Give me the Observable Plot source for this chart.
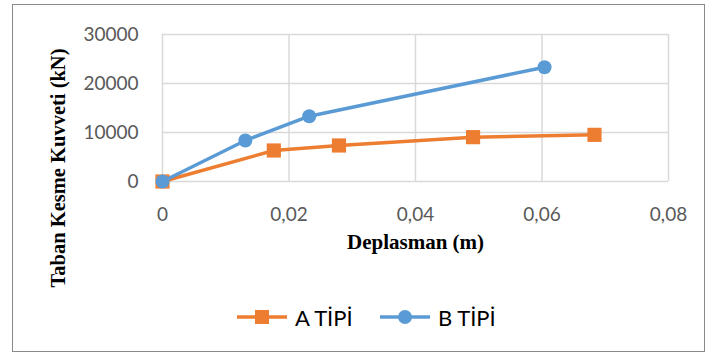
<!DOCTYPE html>
<html><head><meta charset="utf-8">
<script src="https://cdn.jsdelivr.net/npm/d3@7"></script>
<script src="https://cdn.jsdelivr.net/npm/@observablehq/plot@0.6"></script>
<style>
body{margin:0;background:#fff;}
#wrap{position:relative;width:707px;height:356px;overflow:hidden;}
#frame{position:absolute;left:12px;top:4px;width:691px;height:346px;border:1.5px solid #8a8a8a;}
#chart{position:absolute;left:0;top:0;}
#legend{position:absolute;left:0;top:300px;width:707px;height:34px;font-family:Lato,sans-serif;font-size:22px;color:#000;}
.item{position:absolute;top:0;display:flex;align-items:center;height:34px;}
</style></head><body>
<div id="wrap"><div id="frame"></div><div id="chart"></div><div id="legend"></div></div>
<script>
const seriesNames = ["A TİPİ", "B TİPİ"];
const seriesColors = ["#ED7D31", "#5B9BD5"];
const aX = [0, 0.0176, 0.0279, 0.0491, 0.0683];
const aY = [0, 6330, 7350, 9050, 9520];
const bX = [0, 0.0131, 0.0232, 0.0604];
const bY = [0, 8370, 13330, 23330];
const xTicks = [0, 0.02, 0.04, 0.06, 0.08];
const yTicks = [0, 10000, 20000, 30000];
const xTitle = "Deplasman (m)";
const yTitle = "Taban Kesme Kuvveti (kN)";

const A = aX.map((x,i)=>({x, y:aY[i]}));
const B = bX.map((x,i)=>({x, y:bY[i]}));
const fmtX = d => d === 0 ? "0" : d.toFixed(2).replace(".", ",");

const plot = Plot.plot({
  width: 707, height: 300,
  marginLeft: 162, marginRight: 39, marginTop: 34, marginBottom: 119,
  style: {fontFamily: "Lato, sans-serif", fontSize: "19px", color: "#595959", background: "transparent", overflow: "visible"},
  x: {domain: [0, 0.08], ticks: xTicks, tickFormat: fmtX, label: null},
  y: {domain: [0, 30000], ticks: yTicks, tickFormat: d3.format("d"), label: null},
  marks: [
    Plot.gridX(xTicks, {stroke: "#d9d9d9", strokeOpacity: 1, strokeWidth: 1.5}),
    Plot.gridY(yTicks, {stroke: "#d9d9d9", strokeOpacity: 1, strokeWidth: 1.5}),
    Plot.axisX(xTicks, {tickSize: 0, tickPadding: 26, tickFormat: fmtX, fill: "#595959"}),
    Plot.axisY(yTicks, {tickSize: 0, tickPadding: 24, tickFormat: d3.format("d"), fill: "#595959"}),
    Plot.line(A, {x: "x", y: "y", stroke: seriesColors[0], strokeWidth: 3.5}),
    Plot.dot(A, {x: "x", y: "y", symbol: "square", r: 8, fill: seriesColors[0], stroke: "none"}),
    Plot.line(B, {x: "x", y: "y", stroke: seriesColors[1], strokeWidth: 3.5}),
    Plot.dot(B, {x: "x", y: "y", symbol: "circle", r: 7, fill: seriesColors[1], stroke: "none"}),
    Plot.text([xTitle], {frameAnchor: "bottom", dy: 67, fontFamily: "Liberation Serif, serif", fontWeight: "bold", fontSize: 21, fill: "#000"})
  ]
});
d3.select(plot).append("text")
  .attr("transform", "translate(58,168) rotate(-90)")
  .attr("text-anchor", "middle")
  .attr("dominant-baseline", "central")
  .attr("font-family", "Liberation Serif, serif")
  .attr("font-weight", "bold")
  .attr("font-size", 20.5)
  .attr("fill", "#000")
  .text(yTitle);
document.getElementById("chart").appendChild(plot);

const legend = document.getElementById("legend");
const lx = [237, 380];
seriesNames.forEach((name, i) => {
  const it = document.createElement("div");
  it.className = "item";
  it.style.left = lx[i] + "px";
  const sym = i === 0
    ? `<rect x="18" y="10" width="14" height="14" fill="${seriesColors[i]}"/>`
    : `<circle cx="25" cy="17" r="7" fill="${seriesColors[i]}"/>`;
  it.innerHTML = `<svg width="50" height="34"><line x1="0" x2="50" y1="17" y2="17" stroke="${seriesColors[i]}" stroke-width="3.5"/>${sym}</svg><span style="margin-left:8px">${name}</span>`;
  legend.appendChild(it);
});
</script>
</body></html>
